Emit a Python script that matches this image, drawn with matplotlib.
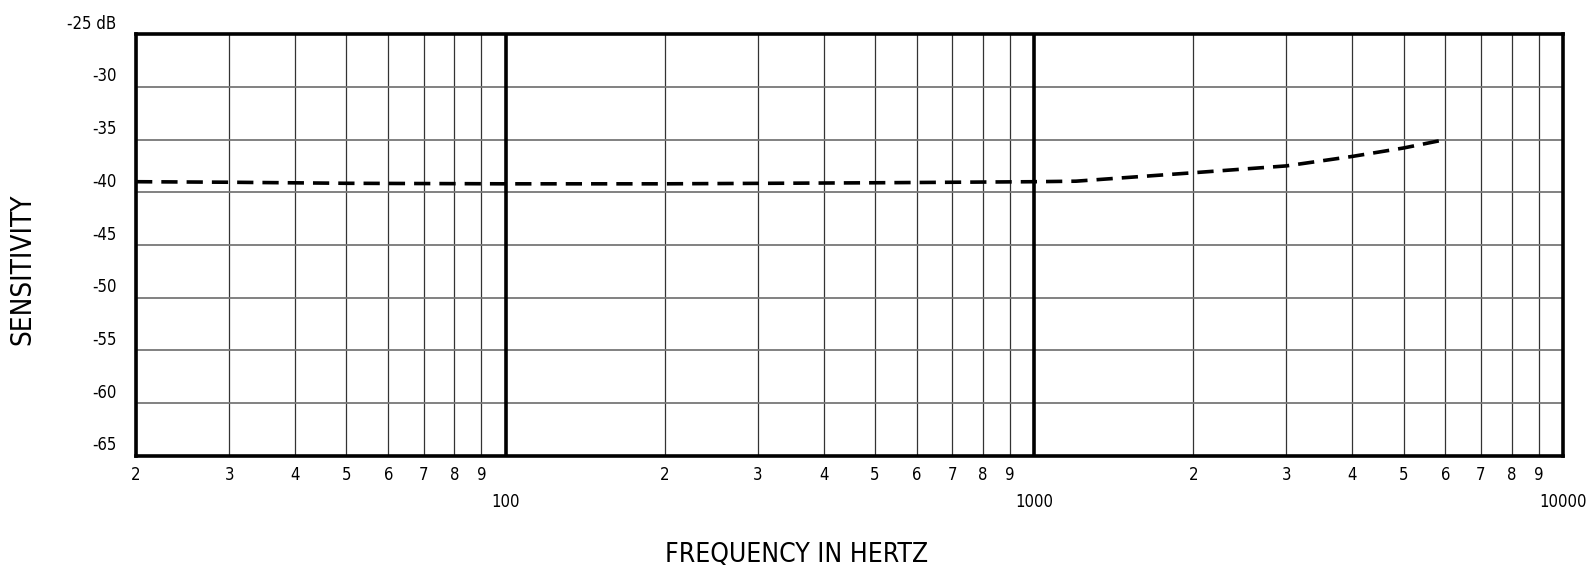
import matplotlib
matplotlib.use("Agg")
import matplotlib.pyplot as plt
import matplotlib.transforms as mtransforms

# frequency response
freqs = [20, 30, 50, 100, 200, 500, 1000, 1200, 1500, 2000, 3000, 4000, 5000, 6000]
sens = [-39.0, -39.05, -39.15, -39.2, -39.2, -39.1, -39.0, -38.95, -38.6, -38.15, -37.5, -36.6, -35.8, -35.0]

minor_freqs = [20, 30, 40, 50, 60, 70, 80, 90,
               200, 300, 400, 500, 600, 700, 800, 900,
               2000, 3000, 4000, 5000, 6000, 7000, 8000, 9000]
minor_labels = ["2", "3", "4", "5", "6", "7", "8", "9"] * 3
major_freqs = [100, 1000, 10000]
major_labels = ["100", "1000", "10000"]

y_ticks = [-65, -60, -55, -50, -45, -40, -35, -30, -25]
y_labels = ["-65", "-60", "-55", "-50", "-45", "-40", "-35", "-30", "-25 dB"]

plt.rcParams['font.family'] = ['DejaVu Sans']

fig = plt.figure(figsize=(15.93, 5.69), dpi=100)
ax = fig.add_axes([0.0854, 0.199, 0.8956, 0.741])

ax.set_xscale('log')
ax.set_xlim(20, 10000)
ax.set_ylim(-65, -25)

# grid
for f in minor_freqs:
    ax.axvline(f, color='#333333', lw=0.9, zorder=1)
for f in major_freqs[:-1]:
    ax.axvline(f, color='black', lw=2.6, zorder=2)
for y in y_ticks:
    ax.axhline(y, color='#777777', lw=1.3, zorder=1)

ax.plot(freqs, sens, color='black', lw=2.6, dashes=(4.5, 2.5), zorder=3)

for s in ax.spines.values():
    s.set_linewidth(2.6)
    s.set_zorder(4)

ax.set_xticks(major_freqs)
ax.set_xticklabels(major_labels)
ax.set_xticks(minor_freqs, minor=True)
ax.set_xticklabels(minor_labels, minor=True)
ax.tick_params(axis='x', which='major', length=0, pad=27, labelsize=12)
ax.tick_params(axis='x', which='minor', length=0, pad=7.5, labelsize=12)

ax.set_yticks(y_ticks)
ax.set_yticklabels(y_labels)
ax.tick_params(axis='y', length=0, pad=14, labelsize=12)
offset = mtransforms.ScaledTranslation(0, 1 / 72, fig.dpi_scale_trans)
for lab in ax.get_yticklabels():
    lab.set_verticalalignment('bottom')
    lab.set_transform(lab.get_transform() + offset)

for lab in ax.get_xticklabels(which='both') + ax.get_yticklabels():
    lab.set_fontstretch('condensed')
    lab.set_fontweight('light')

fig.text(0.500, 0.025, "FREQUENCY IN HERTZ", ha='center', va='center',
         fontsize=19, fontweight='light', fontstretch='condensed')
fig.text(0.0141, 0.527, "SENSITIVITY", ha='center', va='center', rotation=90,
         fontsize=20, fontweight='light', fontstretch='condensed')

fig.savefig("out.png", dpi=100)
